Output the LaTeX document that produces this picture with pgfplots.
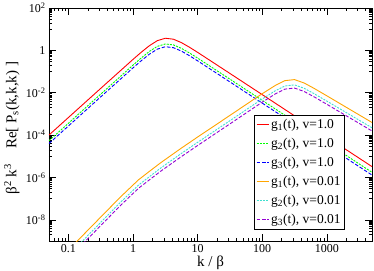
\documentclass[border=0pt]{standalone}
\usepackage{fontspec}
\setmainfont{Liberation Serif}
\usepackage{pgfplots}
\pgfplotsset{compat=1.18}
\definecolor{gred}{RGB}{255,0,0}
\definecolor{ggreen}{RGB}{0,255,0}
\definecolor{gblue}{RGB}{0,0,255}
\definecolor{gorange}{RGB}{255,165,0}
\definecolor{gturq}{RGB}{64,224,208}
\definecolor{gviolet}{RGB}{148,0,211}
\begin{document}
\begin{tikzpicture}
\path[use as bounding box] (-49bp,-30bp) rectangle (325bp,241bp);
\begin{axis}[
 at={(0,0)}, anchor=south west,
 scale only axis, width=323bp, height=233bp,
 xmode=log, ymode=log,
 xmin=0.05, xmax=5000, ymin=1e-9, ymax=100,
 xtick={0.1,1,10,100,1000}, xticklabels={0.1,1,10,100,1000},
 minor xtick={0.06,0.07,0.08,0.09,0.2,0.3,0.4,0.5,0.6,0.7,0.8,0.9,2,3,4,5,6,7,8,9,20,30,40,50,60,70,80,90,200,300,400,500,600,700,800,900,2000,3000,4000},
 ytick={1e-8,1e-6,1e-4,1e-2,1,100},
 yticklabels={10\textsuperscript{-8},10\textsuperscript{-6},10\textsuperscript{-4},10\textsuperscript{-2},1,10\textsuperscript{2}},
 minor ytick={2e-9,3e-9,4e-9,5e-9,6e-9,7e-9,8e-9,9e-9,
   1e-7,2e-7,3e-7,4e-7,5e-7,6e-7,7e-7,8e-7,9e-7,
   1e-5,2e-5,3e-5,4e-5,5e-5,6e-5,7e-5,8e-5,9e-5,
   1e-3,2e-3,3e-3,4e-3,5e-3,6e-3,7e-3,8e-3,9e-3,
   0.1,0.2,0.3,0.4,0.5,0.6,0.7,0.8,0.9,
   10,20,30,40,50,60,70,80,90},
 major tick length=7bp, minor tick length=3.5bp,
 tick style={black, line width=0.5bp},
 axis line style={black, line width=0.8bp},
 ticklabel style={font=\fontsize{12bp}{14bp}\selectfont},
 xlabel={k / β},
 ylabel={β\textsuperscript{2} k\textsuperscript{3}\quad Re[ P\textsubscript{s}(k,k,k) ]},
 label style={font=\fontsize{15bp}{17bp}\selectfont},
 ylabel style={at={(axis description cs:-0.115,0.485)}, anchor=center},
 xlabel style={at={(axis description cs:0.5,-0.094)}, anchor=center},
 legend style={at={(0.916,0.0515)}, anchor=south east,
   font=\fontsize{13.5bp}{16bp}\selectfont, inner xsep=2bp, inner ysep=1.5bp, row sep=4.3bp},
 legend cell align=left,
 legend image code/.code={\draw[#1, line width=1bp] (0bp,0bp) -- (12bp,0bp);},
]
\addplot[color=gred, line width=0.9bp] coordinates {(0.05,1.007e-4) (0.1,6.78e-4) (0.3162,1.607e-2) (1,0.3758) (1.334,0.807) (1.778,1.637) (2.371,2.864) (3.162,3.733) (4.217,3.365) (5.623,2.312) (7.499,1.396) (10,0.8035) (31.62,8.128e-2) (100,8.128e-3) (316.2,8.128e-4) (1000,8.128e-5) (3162,8.128e-6) (5000,3.25e-6)};
\addlegendentry{g\textsubscript{1}(t), v=1.0}
\addplot[color=ggreen, line width=0.9bp, dash pattern=on 2bp off 1.2bp] coordinates {(0.05,5.41e-5) (0.1,3.64e-4) (0.3162,8.63e-3) (1,0.2018) (1.334,0.4334) (1.778,0.879) (2.371,1.538) (3.162,2.005) (4.217,1.807) (5.623,1.2415) (7.499,0.7497) (10,0.4315) (31.62,4.365e-2) (100,4.365e-3) (316.2,4.365e-4) (1000,4.365e-5) (3162,4.365e-6) (5000,1.745e-6)};
\addlegendentry{g\textsubscript{2}(t), v=1.0}
\addplot[color=gblue, line width=0.9bp, dash pattern=on 3.5bp off 1.8bp] coordinates {(0.05,4.01e-5) (0.1,2.70e-4) (0.3162,6.40e-3) (1,0.1496) (1.334,0.3212) (1.778,0.6515) (2.371,1.140) (3.162,1.486) (4.217,1.339) (5.623,0.920) (7.499,0.5556) (10,0.3198) (31.62,3.235e-2) (100,3.235e-3) (316.2,3.235e-4) (1000,3.235e-5) (3162,3.235e-6) (5000,1.294e-6)};
\addlegendentry{g\textsubscript{3}(t), v=1.0}
\addplot[color=gorange, line width=0.9bp] coordinates {(0.1122,5.37e-10) (0.3162,1.349e-8) (0.6397,1.202e-7) (1.216,7.76e-7) (1.778,1.905e-6) (2.667,4.90e-6) (5.445,2.291e-5) (10,8.13e-5) (31.62,8.51e-4) (94.84,8.13e-3) (158.5,2.188e-2) (223.9,3.715e-2) (316.2,4.169e-2) (446.7,2.864e-2) (631.0,1.622e-2) (1000,7.145e-3) (1995,2.061e-3) (3162,8.99e-4) (5000,3.94e-4)};
\addlegendentry{g\textsubscript{1}(t), v=0.01}
\addplot[color=gturq, line width=0.9bp, dash pattern=on 2bp off 1.2bp] coordinates {(0.1122,3.02e-10) (0.3162,7.59e-9) (0.6397,6.76e-8) (1.216,4.36e-7) (1.778,1.071e-6) (2.667,2.755e-6) (5.445,1.288e-5) (10,4.57e-5) (31.62,4.785e-4) (94.84,4.57e-3) (158.5,1.230e-2) (223.9,2.089e-2) (316.2,2.344e-2) (446.7,1.610e-2) (631.0,9.12e-3) (1000,4.018e-3) (1995,1.159e-3) (3162,5.055e-4) (5000,2.215e-4)};
\addlegendentry{g\textsubscript{2}(t), v=0.01}
\addplot[color=gviolet, line width=0.9bp, dash pattern=on 3.5bp off 1.8bp] coordinates {(0.1122,2.14e-10) (0.3162,5.37e-9) (0.6397,4.78e-8) (1.216,3.09e-7) (1.778,7.58e-7) (2.667,1.950e-6) (5.445,9.12e-6) (10,3.236e-5) (31.62,3.387e-4) (94.84,3.236e-3) (158.5,8.71e-3) (223.9,1.479e-2) (316.2,1.659e-2) (446.7,1.140e-2) (631.0,6.46e-3) (1000,2.844e-3) (1995,8.20e-4) (3162,3.578e-4) (5000,1.568e-4)};
\addlegendentry{g\textsubscript{3}(t), v=0.01}
\end{axis}
\end{tikzpicture}
\end{document}
